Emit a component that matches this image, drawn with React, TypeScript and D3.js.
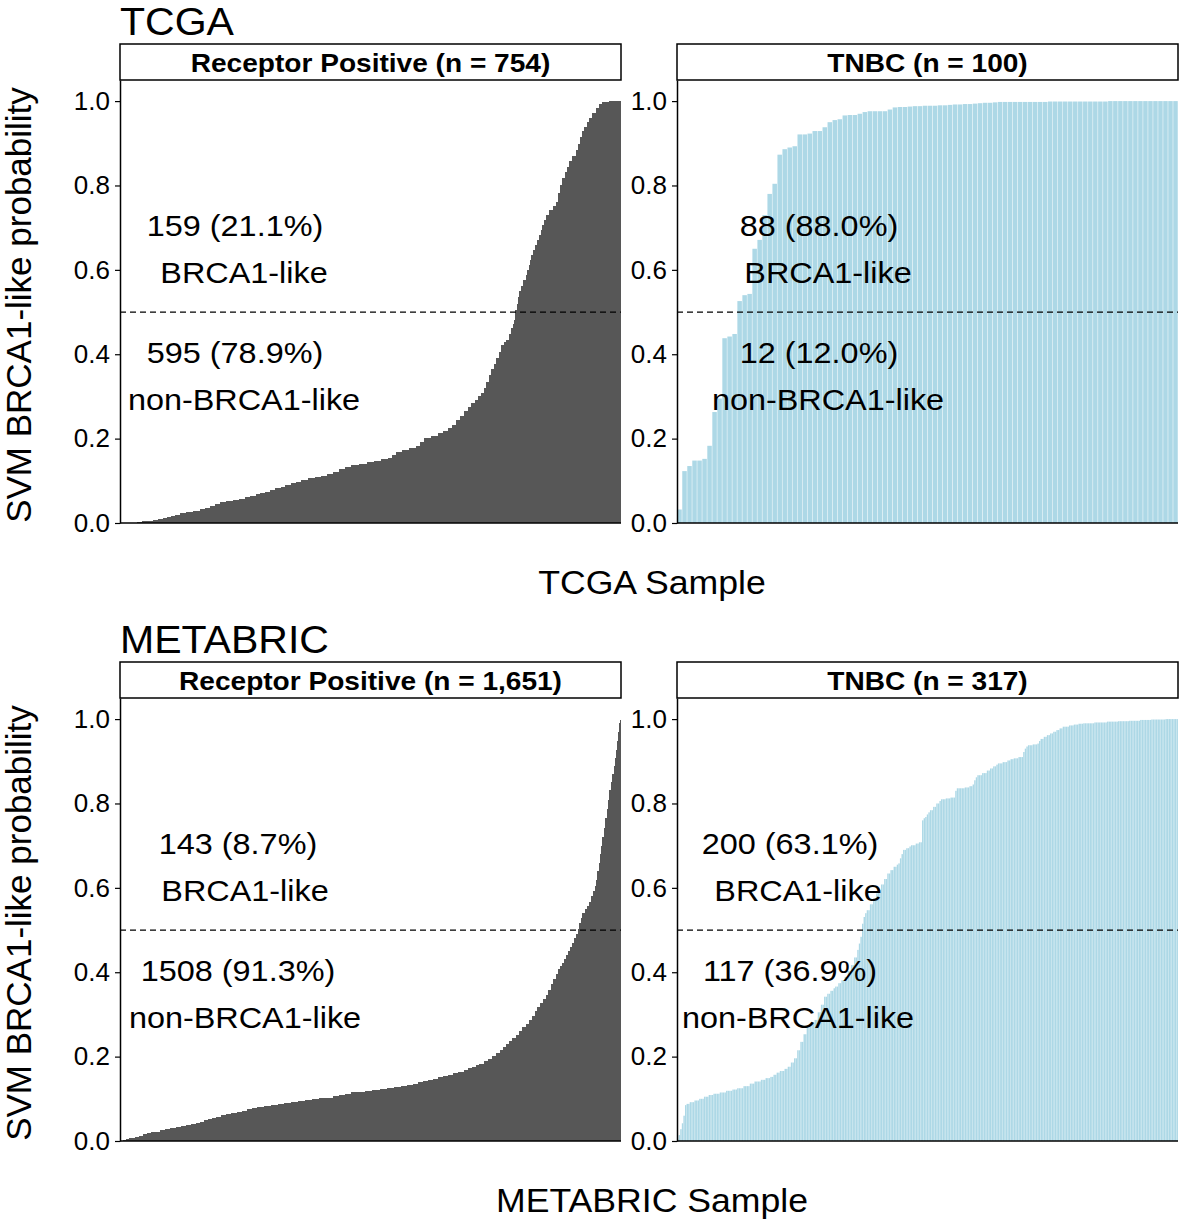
import React, { useEffect, useRef } from "react";
import * as d3 from "d3";

// sorted SVM BRCA1-like probabilities,
// kept as [probability, number of consecutive samples at that level]
const tcgaReceptorPositive: [number, number][] = [
  [0, 15], [0.001, 10], [0.002, 8], [0.004, 8],
  [0.005, 8], [0.007, 8], [0.009, 8],
  [0.011, 6], [0.014, 6], [0.017, 6], [0.02, 7],
  [0.023, 10], [0.026, 10], [0.029, 10],
  [0.032, 8], [0.036, 8], [0.041, 7], [0.045, 7],
  [0.049, 10], [0.052, 10], [0.055, 9], [0.058, 9],
  [0.061, 8], [0.065, 8], [0.068, 7], [0.071, 7],
  [0.074, 8], [0.078, 8], [0.082, 8], [0.086, 7],
  [0.09, 8], [0.094, 8], [0.098, 8],
  [0.102, 10], [0.106, 10], [0.109, 9], [0.112, 9],
  [0.116, 9], [0.122, 9], [0.127, 9], [0.133, 9],
  [0.138, 12], [0.141, 12],
  [0.145, 11], [0.148, 11], [0.151, 10],
  [0.153, 6], [0.16, 6],
  [0.168, 10], [0.172, 10], [0.177, 10],
  [0.183, 6], [0.192, 6],
  [0.201, 11], [0.207, 11],
  [0.213, 7], [0.219, 7], [0.226, 7],
  [0.232, 6], [0.243, 6], [0.254, 6], [0.265, 6],
  [0.276, 5], [0.284, 5], [0.292, 5], [0.3, 5],
  [0.308, 4], [0.32, 3],
  [0.335, 4], [0.35, 4], [0.364, 4], [0.378, 3],
  [0.391, 4], [0.406, 4],
  [0.422, 4], [0.428, 3],
  [0.434, 4], [0.448, 4],
  [0.462, 2], [0.472, 2], [0.482, 2],
  [0.505, 2], [0.52, 2], [0.535, 2],
  [0.549, 3], [0.562, 3], [0.575, 4],
  [0.588, 2], [0.6, 2], [0.612, 2], [0.624, 2],
  [0.636, 3], [0.648, 3], [0.66, 3], [0.671, 3],
  [0.683, 2], [0.695, 2], [0.707, 3], [0.719, 3],
  [0.731, 5], [0.741, 5], [0.752, 5],
  [0.762, 3], [0.781, 3], [0.8, 3],
  [0.818, 4], [0.831, 4], [0.844, 3],
  [0.857, 5], [0.871, 5],
  [0.885, 3], [0.899, 3], [0.914, 3],
  [0.928, 4], [0.939, 4], [0.95, 3],
  [0.96, 5], [0.972, 5],
  [0.984, 5], [0.992, 4],
  [0.998, 11], [1, 18],
];

const tcgaTnbc: [number, number][] = [
  [0.032, 1], [0.123, 1], [0.135, 1], [0.148, 2], [0.152, 1], [0.183, 1],
  [0.263, 1], [0.295, 1], [0.438, 1], [0.442, 1], [0.448, 1],
  [0.526, 1], [0.54, 1], [0.543, 1], [0.65, 1], [0.671, 1], [0.73, 1],
  [0.78, 1], [0.804, 1], [0.873, 1], [0.886, 1], [0.89, 1], [0.893, 1],
  [0.921, 2], [0.923, 1], [0.929, 2], [0.938, 1], [0.95, 1], [0.955, 1],
  [0.957, 1], [0.966, 1], [0.967, 2], [0.97, 1], [0.974, 1], [0.976, 4],
  [0.98, 1], [0.985, 1], [0.986, 2], [0.987, 1], [0.988, 2], [0.989, 3],
  [0.99, 2], [0.991, 1], [0.992, 2], [0.993, 2], [0.994, 1], [0.995, 1],
  [0.996, 2], [0.997, 1], [0.998, 10], [0.999, 12], [1, 14],
];

const metabricReceptorPositive: [number, number][] = [
  [0, 10], [0.002, 10], [0.004, 10], [0.006, 10], [0.008, 9],
  [0.01, 13], [0.013, 13], [0.016, 13], [0.019, 13], [0.021, 14],
  [0.022, 17], [0.025, 17], [0.028, 17], [0.03, 18],
  [0.032, 16], [0.035, 17], [0.038, 17], [0.041, 16],
  [0.043, 13], [0.046, 13], [0.049, 13], [0.052, 13], [0.055, 14],
  [0.058, 17], [0.061, 17], [0.064, 17], [0.067, 18],
  [0.069, 16], [0.072, 17], [0.075, 17], [0.078, 16],
  [0.08, 23], [0.083, 23], [0.085, 23],
  [0.087, 22], [0.09, 22], [0.093, 21],
  [0.095, 24], [0.097, 24], [0.099, 24], [0.101, 24],
  [0.103, 20], [0.106, 20], [0.109, 20], [0.112, 19],
  [0.115, 24], [0.117, 24], [0.119, 24], [0.121, 24], [0.123, 25],
  [0.125, 22], [0.128, 22], [0.131, 22],
  [0.133, 17], [0.136, 17], [0.139, 17], [0.142, 18],
  [0.145, 16], [0.148, 17], [0.151, 17], [0.154, 16],
  [0.156, 16], [0.16, 17], [0.164, 17], [0.168, 16],
  [0.172, 12], [0.175, 12], [0.179, 12],
  [0.182, 14], [0.189, 14], [0.195, 14], [0.202, 14],
  [0.208, 11], [0.215, 11], [0.222, 11], [0.229, 10], [0.236, 10],
  [0.243, 11], [0.252, 11], [0.261, 11], [0.27, 11], [0.278, 11],
  [0.287, 9], [0.297, 9], [0.307, 9], [0.317, 9], [0.327, 10], [0.337, 10],
  [0.346, 8], [0.358, 8], [0.371, 8], [0.383, 8], [0.396, 8], [0.408, 7], [0.415, 6],
  [0.421, 7], [0.431, 7], [0.441, 6], [0.451, 6],
  [0.46, 7], [0.47, 6], [0.48, 6], [0.49, 6],
  [0.503, 5], [0.516, 5], [0.529, 5],
  [0.54, 8], [0.549, 8], [0.558, 7],
  [0.567, 6], [0.58, 6], [0.593, 6], [0.605, 5],
  [0.618, 4], [0.639, 4], [0.66, 4], [0.68, 4], [0.7, 4],
  [0.721, 5], [0.743, 5], [0.765, 5], [0.787, 4], [0.809, 4],
  [0.832, 5], [0.851, 5], [0.87, 5], [0.889, 4], [0.908, 4],
  [0.927, 3], [0.948, 3], [0.969, 4],
  [0.99, 3], [0.997, 3],
];

const metabricTnbc: [number, number][] = [
  [0.004, 1], [0.014, 1], [0.028, 1], [0.042, 1], [0.06, 1], [0.085, 1], [0.088, 2],
  [0.092, 3], [0.096, 3], [0.1, 3],
  [0.105, 3], [0.109, 3], [0.112, 4],
  [0.115, 4], [0.119, 4], [0.122, 3],
  [0.125, 4], [0.13, 4], [0.136, 3],
  [0.141, 4], [0.145, 3], [0.149, 3],
  [0.152, 2], [0.157, 2],
  [0.162, 2], [0.166, 3], [0.171, 2],
  [0.176, 2], [0.186, 2],
  [0.196, 2], [0.215, 2],
  [0.235, 2], [0.253, 2],
  [0.271, 3], [0.28, 2],
  [0.287, 2], [0.305, 2], [0.323, 2],
  [0.342, 2], [0.349, 2], [0.356, 2], [0.362, 1],
  [0.366, 2], [0.374, 2], [0.381, 2],
  [0.389, 2], [0.403, 2],
  [0.417, 2], [0.435, 2],
  [0.453, 1], [0.468, 1], [0.484, 1],
  [0.515, 1], [0.531, 1], [0.54, 1],
  [0.547, 2], [0.561, 2], [0.575, 2], [0.587, 1],
  [0.595, 2], [0.608, 2], [0.621, 2],
  [0.634, 2], [0.642, 2], [0.65, 2], [0.655, 1],
  [0.658, 1], [0.67, 1], [0.68, 1],
  [0.69, 2], [0.694, 2], [0.698, 1],
  [0.701, 3], [0.705, 2], [0.708, 2],
  [0.76, 1], [0.765, 1],
  [0.768, 1], [0.774, 1], [0.779, 1],
  [0.784, 2], [0.792, 2], [0.8, 2], [0.806, 1],
  [0.81, 3], [0.812, 3],
  [0.814, 3], [0.83, 1], [0.836, 5], [0.838, 3], [0.841, 2],
  [0.845, 1], [0.855, 1], [0.862, 1],
  [0.867, 3], [0.872, 3], [0.878, 2],
  [0.883, 2], [0.888, 2], [0.892, 1],
  [0.895, 3], [0.898, 3], [0.902, 2], [0.905, 2],
  [0.907, 3], [0.91, 3],
  [0.922, 1], [0.93, 1], [0.935, 1],
  [0.938, 3], [0.94, 3],
  [0.942, 1], [0.948, 1], [0.953, 2],
  [0.958, 2], [0.962, 2], [0.966, 2],
  [0.97, 2], [0.974, 2], [0.978, 2],
  [0.982, 4], [0.985, 3], [0.987, 3], [0.989, 3],
  [0.99, 7], [0.992, 8], [0.994, 7],
  [0.995, 7], [0.996, 7], [0.998, 7],
  [0.999, 9], [1, 8],
];

const cohorts = ["TCGA", "METABRIC"];
const subtypes = ["Receptor Positive", "TNBC"];
const yTicks = [0, 0.2, 0.4, 0.6, 0.8, 1.0];
const cutoff = 0.5;

const FONT = "'Liberation Sans', Arial, Helvetica, sans-serif";
const WIDEN = "scale(1.08,1)";
const GREY = "#575757";
const BLUE = "#ADD8E6";

const W = 1181;
const H = 1222;
const panelLeft = [120, 677];
const panelW = 501;
const rowTop = [44, 662];
const stripH = 36;
const panelH = 443;

const expand = (runs: [number, number][]) =>
  runs.flatMap(([v, c]) => Array(c).fill(v) as number[]);

const Label = ({ x, y, size, anchor = "middle", weight = "normal", children }: any) => (
  <text
    transform={`translate(${x},${y}) ${WIDEN}`}
    fontSize={size}
    fontWeight={weight}
    textAnchor={anchor}
    fontFamily={FONT}
    fill="#000"
  >
    {children}
  </text>
);

function Panel({ runs, name, left, top, fill, dense, annot }: any) {
  const axisRef = useRef<SVGGElement>(null);
  const values = expand(runs);
  const n = values.length;
  const bottom = top + stripH + panelH;

  const x = d3
    .scaleBand<number>()
    .domain(d3.range(n))
    .range([left, left + panelW])
    .paddingInner(dense ? 0 : 0.1)
    .paddingOuter(dense ? 0 : 0.05);
  const y = d3.scaleLinear().domain([0, 1.05]).range([bottom, top + stripH]);

  const above = values.filter((v) => v > cutoff).length;
  const below = n - above;
  const pct = (k: number) => d3.format(".1f")((k / n) * 100) + "%";

  useEffect(() => {
    const g = d3.select(axisRef.current);
    g.call(
      d3
        .axisLeft(y)
        .tickValues(yTicks)
        .tickFormat(d3.format(".1f"))
        .tickSize(5)
        .tickPadding(5)
        .tickSizeOuter(0)
    );
    g.select(".domain").attr("stroke", "#000").attr("stroke-width", 1.5);
    g.selectAll(".tick line").attr("stroke", "#000").attr("stroke-width", 1.2);
    g.selectAll(".tick text")
      .attr("font-size", 26)
      .attr("font-family", FONT)
      .attr("fill", "#000");
  }, []);

  const y1 = y(0.68);
  const y2 = y(0.38);
  const gap = 47;

  return (
    <g>
      <rect x={left} y={top} width={panelW} height={stripH} fill="#fff" stroke="#000" strokeWidth={1.5} />
      <Label x={left + panelW / 2} y={top + 27.5} size={26} weight="bold">
        {`${name} (n = ${d3.format(",")(n)})`}
      </Label>

      <g shapeRendering={dense ? "crispEdges" : "auto"}>
        {values.map((v, i) => (
          <rect key={i} x={x(i)} y={y(v)} width={x.bandwidth()} height={y(0) - y(v)} fill={fill} />
        ))}
      </g>

      <line x1={left} x2={left + panelW} y1={y(cutoff)} y2={y(cutoff)} stroke="#000" strokeWidth={1.3} strokeDasharray="6 4" />
      <line x1={left} x2={left + panelW} y1={bottom} y2={bottom} stroke="#000" strokeWidth={1.5} />
      <g ref={axisRef} transform={`translate(${left},0)`} />

      <Label x={left + annot[0]} y={y1} size={30}>{`${above} (${pct(above)})`}</Label>
      <Label x={left + annot[1]} y={y1 + gap} size={30}>BRCA1-like</Label>
      <Label x={left + annot[0]} y={y2} size={30}>{`${below} (${pct(below)})`}</Label>
      <Label x={left + annot[1]} y={y2 + gap} size={30}>non-BRCA1-like</Label>
    </g>
  );
}

const panels = [
  { runs: tcgaReceptorPositive, row: 0, col: 0, annot: [115, 124] },
  { runs: tcgaTnbc, row: 0, col: 1, annot: [142, 151] },
  { runs: metabricReceptorPositive, row: 1, col: 0, annot: [118, 125] },
  { runs: metabricTnbc, row: 1, col: 1, annot: [113, 121] },
];

export default function App() {
  return (
    <svg
      width={W}
      height={H}
      viewBox={`0 0 ${W} ${H}`}
      style={{ position: "absolute", left: 0, top: 0, background: "#fff" }}
    >
      {cohorts.map((c, r) => {
        const top = rowTop[r];
        const bottom = top + stripH + panelH;
        return (
          <g key={c}>
            <Label x={120} y={top - 9} size={38} anchor="start">{c}</Label>
            <text
              transform={`translate(31,${top + stripH + panelH / 2 + 3.5}) rotate(-90)`}
              fontSize={35}
              fontFamily={FONT}
              textAnchor="middle"
            >
              SVM BRCA1-like probability
            </text>
            <Label x={652} y={bottom + 71} size={33}>{`${c} Sample`}</Label>
          </g>
        );
      })}
      {panels.map((p, i) => (
        <Panel
          key={i}
          runs={p.runs}
          name={subtypes[p.col]}
          left={panelLeft[p.col]}
          top={rowTop[p.row]}
          fill={p.col === 0 ? GREY : BLUE}
          dense={p.col === 0}
          annot={p.annot}
        />
      ))}
    </svg>
  );
}
